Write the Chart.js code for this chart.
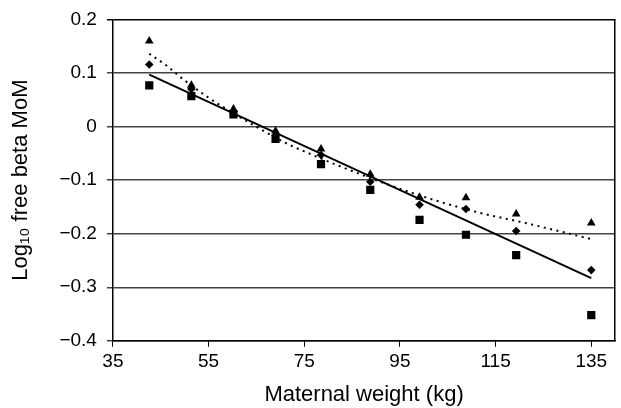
<!DOCTYPE html>
<html>
<head>
<meta charset="utf-8">
<script src="https://cdn.jsdelivr.net/npm/chart.js@4.4.0/dist/chart.umd.min.js"></script>
<style>
  html, body { margin: 0; padding: 0; background: #fff; }
  #wrap { width: 621px; height: 408px; }
</style>
</head>
<body>
<div id="wrap"><canvas id="chart"></canvas></div>
<script>
// weights (kg) of each group
var weights = [42.6, 51.4, 60.2, 69, 78.5, 88.8, 99.1, 108.8, 119.3, 135];
var triangles = [0.160, 0.077, 0.033, -0.008, -0.042, -0.089, -0.132, -0.133, -0.163, -0.180];
var diamonds = [0.116, 0.070, 0.028, -0.016, -0.053, -0.103, -0.146, -0.154, -0.195, -0.268];
var squares = [0.077, 0.057, 0.023, -0.023, -0.070, -0.118, -0.174, -0.202, -0.240, -0.352];

// linear trend (ends)
var lineX = [42.6, 135];
var lineY = [0.097, -0.283];

// curved (dotted) trend
var curveX = [42.6, 46.2, 49.6, 54.5, 63.2, 71.9, 76, 81.6, 96.9, 110.8, 121.2, 135];
var curveY = [0.136, 0.114, 0.089, 0.057, 0.009, -0.034, -0.050, -0.071, -0.122, -0.159, -0.180, -0.210];

var xTicks = [35, 55, 75, 95, 115, 135];
var yTicks = [0.2, 0.1, 0, -0.1, -0.2, -0.3, -0.4];

function pts(xs, ys) {
  var out = [];
  for (var i = 0; i < xs.length; i++) out.push({x: xs[i], y: ys[i]});
  return out;
}

var font = "'Liberation Sans', Arial, sans-serif";

var chart = new Chart(document.getElementById("chart"), {
  type: 'scatter',
  data: {
    datasets: [
      {
        data: pts(lineX, lineY),
        showLine: true,
        borderColor: '#000',
        borderWidth: 2,
        pointRadius: 0
      },
      {
        data: pts(curveX, curveY),
        showLine: true,
        borderColor: '#000',
        borderWidth: 2,
        borderDash: [2, 4.5],
        cubicInterpolationMode: 'monotone',
        pointRadius: 0
      },
      {
        data: pts(weights, triangles),
        pointStyle: 'triangle',
        pointRadius: 5,
        backgroundColor: '#000',
        borderColor: '#000',
        borderWidth: 0
      },
      {
        data: pts(weights, diamonds),
        pointStyle: 'rectRot',
        pointRadius: 4.3,
        backgroundColor: '#000',
        borderColor: '#000',
        borderWidth: 0
      },
      {
        data: pts(weights, squares),
        pointStyle: 'rect',
        pointRadius: 5.8,
        backgroundColor: '#000',
        borderColor: '#000',
        borderWidth: 0
      }
    ]
  },
  options: {
    responsive: true,
    maintainAspectRatio: false,
    animation: false,
    layout: { padding: { left: 8, right: 2.5, top: 8, bottom: 0 } },
    plugins: {
      legend: { display: false },
      tooltip: { enabled: false }
    },
    scales: {
      x: {
        type: 'linear',
        min: 35,
        max: 140,
        afterBuildTicks: function(scale) {
          scale.ticks = xTicks.map(function(v) { return {value: v}; });
        },
        ticks: {
          color: '#000',
          font: { family: font, size: 19 },
          padding: 4,
          maxRotation: 0
        },
        grid: {
          drawOnChartArea: false,
          drawTicks: true,
          tickLength: 6,
          color: '#000'
        },
        border: { color: '#000', width: 1.5 },
        title: {
          display: true,
          text: 'Maternal weight (kg)',
          color: '#000',
          font: { family: font, size: 22 },
          padding: { top: 4, bottom: 0 }
        }
      },
      y: {
        min: -0.4,
        max: 0.2,
        afterBuildTicks: function(scale) {
          scale.ticks = yTicks.map(function(v) { return {value: v}; });
        },
        ticks: {
          color: '#000',
          font: { family: font, size: 19, lineHeight: 1 },
          padding: 10,
          callback: function(v) {
            var s = (Math.round(v * 10) / 10).toString();
            return s.replace('-', '\u2212');
          }
        },
        grid: {
          color: function(ctx) {
            return ctx.tick && ctx.tick.value === 0.2 ? '#000' : '#444';
          },
          lineWidth: 1.5,
          tickLength: 6
        },
        border: { color: '#000', width: 1.5 },
        title: {
          display: true,
          text: 'Log\u2081\u2080 free beta MoM',
          color: '#000',
          font: { family: font, size: 22 },
          padding: { top: 0, bottom: 15 }
        }
      },
      y2: {
        position: 'right',
        min: -0.4,
        max: 0.2,
        ticks: { display: false },
        grid: { drawOnChartArea: false, drawTicks: false },
        border: { color: '#000', width: 1.5 }
      }
    }
  }
});
</script>
</body>
</html>
